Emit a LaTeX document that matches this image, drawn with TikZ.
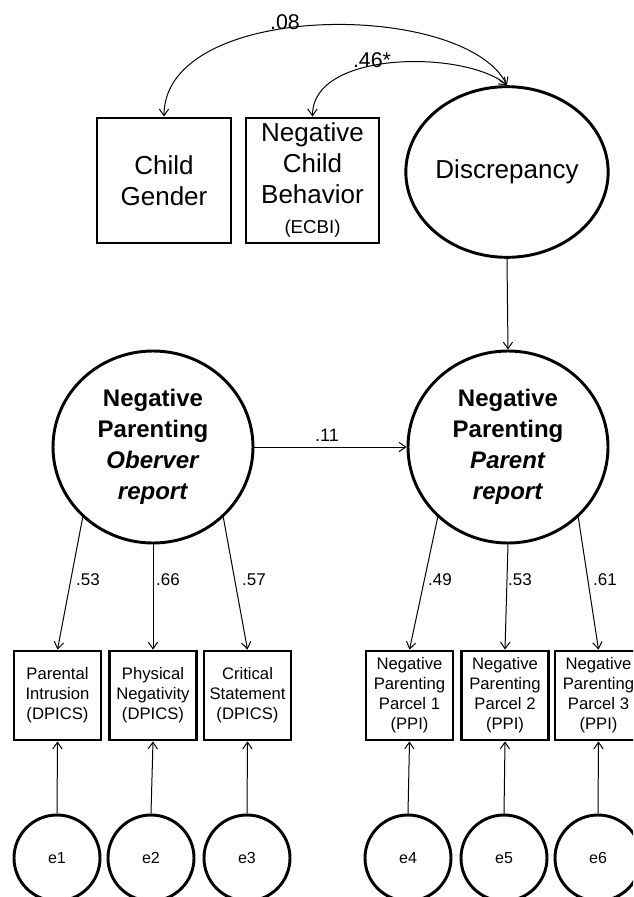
\documentclass[tikz,border=0pt]{standalone}
\usepackage{fontspec}
\setmainfont{Liberation Sans}
\usetikzlibrary{shapes.geometric,arrows.meta}
\begin{document}
\begin{tikzpicture}[x=0.75pt,y=-0.75pt,
  bigbox/.style={draw,line width=2.2pt,rectangle,inner sep=0pt,align=center,
    minimum height=93.75pt,font=\fontsize{19.5pt}{23pt}\selectfont},
  latent/.style={draw,line width=2.2pt,ellipse,inner sep=0pt,align=center},
  ind/.style={draw,line width=2.1pt,rectangle,inner sep=0pt,align=center,
    minimum width=65.25pt,minimum height=66.75pt,font=\fontsize{12.5pt}{15pt}\selectfont},
  err/.style={draw,line width=2.2pt,circle,inner sep=0pt,minimum size=64.5pt,
    font=\fontsize{12pt}{14pt}\selectfont},
  conn/.style={line width=0.75pt,-{Straight Barb[length=5pt,width=7pt]}},
  dconn/.style={line width=0.75pt,{Straight Barb[length=5pt,width=7pt]}-{Straight Barb[length=5pt,width=7pt]}},
  lab/.style={inner sep=0pt,font=\fontsize{12.75pt}{14pt}\selectfont},
  toplab/.style={inner sep=0pt,font=\fontsize{16pt}{18pt}\selectfont}]
\useasboundingbox (0,0) rectangle (633,897);
\clip (0,0) rectangle (633,897);
% top row
\node[bigbox,minimum width=100.5pt] (cg) at (164,180.5) {Child\\Gender};
\node[bigbox,minimum width=99.75pt] (ncb) at (312.5,180.5) {Negative\\Child\\Behavior\\{\fontsize{14pt}{16pt}\selectfont (ECBI)}};
\node[latent,minimum width=123pt,minimum height=128pt,font=\fontsize{19.5pt}{23pt}\selectfont] (disc) at (507,172) {Discrepancy};
% latent factors
\node[latent,minimum width=150pt,minimum height=144pt,font=\fontsize{18pt}{23.25pt}\selectfont\bfseries] (obs) at (153,447) {Negative\\Parenting\\\textit{Oberver}\\\textit{report}};
\node[latent,minimum width=150pt,minimum height=144pt,font=\fontsize{18pt}{23.25pt}\selectfont\bfseries] (par) at (508,447) {Negative\\Parenting\\\textit{Parent}\\\textit{report}};
% indicators
\node[ind] (pi) at (57.5,695.5) {Parental\\Intrusion\\(DPICS)};
\node[ind] (pn) at (153,695.5) {Physical\\Negativity\\(DPICS)};
\node[ind] (cs) at (247.5,695.5) {Critical\\Statement\\(DPICS)};
\node[ind] (np1) at (409.5,695.5) {Negative\\Parenting\\Parcel 1\\(PPI)};
\node[ind] (np2) at (505,695.5) {Negative\\Parenting\\Parcel 2\\(PPI)};
\node[ind] (np3) at (598.5,695.5) {Negative\\Parenting\\Parcel 3\\(PPI)};
% errors
\node[err] (e1) at (57,858) {e1};
\node[err] (e2) at (151,858) {e2};
\node[err] (e3) at (247,858) {e3};
\node[err] (e4) at (408,858) {e4};
\node[err] (e5) at (504,858) {e5};
\node[err] (e6) at (598,858) {e6};
% covariances
\draw[dconn] (cg.north) .. controls (164,0) and (465,0) .. (disc.north);
\draw[dconn] (ncb.north) .. controls (312,50) and (465,50) .. (disc.north);
\node[toplab] (l08) at (285,22) {.08};
\node[toplab] (l46) at (372,60) {.46*};
% paths
\draw[conn] (disc.south) -- (par.north);
\draw[conn] (obs.east) -- (par.west);
\node[lab,font=\fontsize{13.5pt}{15pt}\selectfont] (l11) at (327,435) {.11};
% loadings
\draw[conn] (obs.225) -- (pi.north);
\draw[conn] (obs.south) -- (pn.north);
\draw[conn] (obs.315) -- (cs.north);
\draw[conn] (par.225) -- (np1.north);
\draw[conn] (par.south) -- (np2.north);
\draw[conn] (par.315) -- (np3.north);
\node[lab] (l1) at (88,580) {.53};
\node[lab] (l2) at (168,580) {.66};
\node[lab] (l3) at (254,580) {.57};
\node[lab] (l4) at (440,580) {.49};
\node[lab] (l5) at (520,580) {.53};
\node[lab] (l6) at (605,580) {.61};
% errors to indicators
\draw[conn] (e1.north) -- (pi.south);
\draw[conn] (e2.north) -- (pn.south);
\draw[conn] (e3.north) -- (cs.south);
\draw[conn] (e4.north) -- (np1.south);
\draw[conn] (e5.north) -- (np2.south);
\draw[conn] (e6.north) -- (np3.south);
\end{tikzpicture}
\end{document}
